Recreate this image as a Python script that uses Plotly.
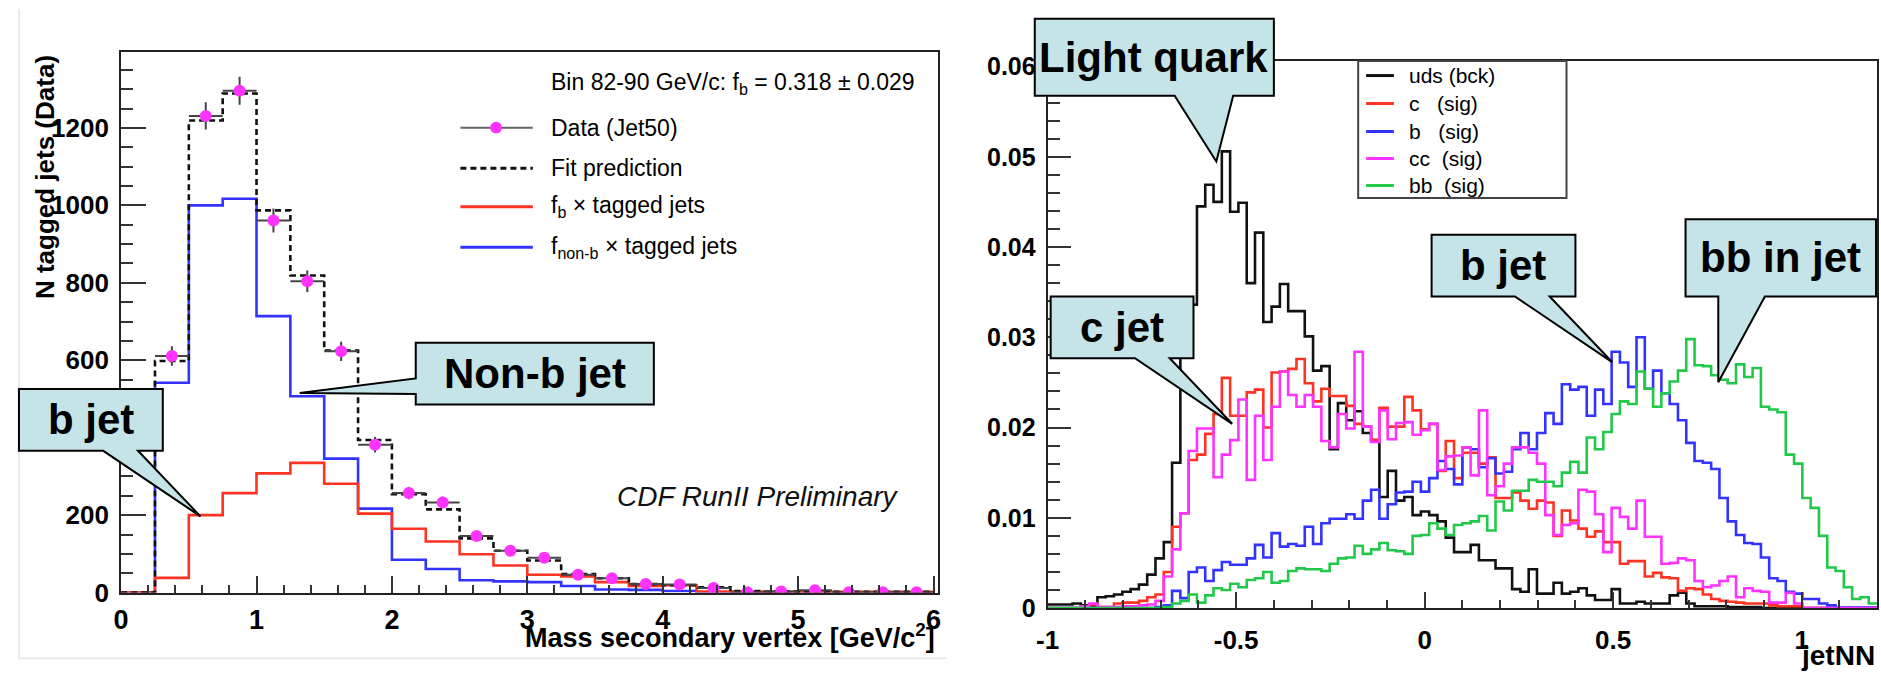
import numpy as np
import plotly.graph_objects as go

W, H = 1881, 679
FONT = "Liberation Sans, Arial, Helvetica, sans-serif"


def px(x):
    return x / W


def py(y):
    return 1 - y / H


# ---------------- Left panel: secondary-vertex mass fit ----------------
mass_edges = np.arange(0.0, 6.0 + 1e-9, 0.25)
fb_tagged = [0, 38, 200, 257, 308, 335, 281, 204, 165, 132, 99, 70,
             46, 42, 27, 17, 19, 3, 3, 2, 2, 2, 2, 2]
nonb_tagged = [0, 542, 1000, 1017, 714, 507, 346, 217, 85, 61, 32, 29,
               27, 17, 8, 7, 4, 1, 1, 1, 1, 1, 1, 1]
fit_prediction = [0, 598, 1219, 1289, 987, 819, 625, 394, 254, 215, 140, 108,
                  83, 48, 37, 22, 19, 14, 4, 3, 3, 2, 2, 2]
data_jet50 = [611, 1231, 1296, 961, 804, 623, 382, 257, 233, 146, 108, 90,
              46, 37, 22, 21, 12, 1, 3, 6, 1, 1, 1]
data_err = [25, 35, 36, 31, 28, 25, 20, 16, 15, 12, 10, 9,
            7, 6, 5, 5, 3, 1, 2, 2, 1, 1, 1]
data_x = (mass_edges[1:-1] + mass_edges[2:]) / 2

left_xticks = [0, 1, 2, 3, 4, 5, 6]
left_xticktext = ["0", "1", "2", "3", "4", "5", "6"]
left_yticks = [0, 200, 400, 600, 800, 1000, 1200]
left_yticktext = ["0", "200", "400", "600", "800", "1000", "1200"]

# ---------------- Right panel: jetNN output (values in units of 1e-3) ----------------
nn_edges = np.linspace(-1.0, 1.2, 101)
uds_e3 = [0.4, 0.4, 0.4, 0.5, 0.3, 0.3, 1.2, 1.3, 1.5, 1.8,
          2.1, 2.6, 3.7, 5.5, 7.3, 16.1, 28.5, 33.6, 44.5, 46.9,
          45.0, 50.6, 43.9, 44.9, 36.0, 41.6, 31.7, 33.4, 35.9, 32.9,
          32.9, 30.1, 26.3, 26.8, 17.6, 22.7, 20.8, 21.8, 19.4, 18.6,
          12.3, 15.2, 11.9, 12.3, 10.3, 10.7, 10.3, 9.6, 7.8, 6.2,
          6.2, 7.0, 5.3, 5.3, 4.4, 4.4, 2.1, 1.8, 4.3, 1.6,
          1.6, 2.8, 1.6, 1.8, 2.2, 1.4, 0.9, 0.9, 2.1, 0.5,
          0.5, 0.7, 0.5, 0.5, 0.5, 1.4, 1.7, 0.5, 0.2, 0.2,
          0.2, 0.2, 0.1, 0.1, 0.1, 0.1, 0, 0, 0, 0,
          0, 0, 0, 0, 0, 0, 0, 0, 0, 0]
c_e3 = [0, 0, 0, 0, 0.1, 0.4, 0.1, 0.1, 0.5, 0.6,
        0.6, 0.8, 1.2, 1.5, 4.0, 9.0, 10.5, 16.4, 17.0, 19.3,
        21.5, 25.5, 21.3, 21.3, 23.9, 24.2, 20.0, 26.1, 26.2, 26.5,
        27.6, 24.9, 22.9, 24.3, 23.5, 23.5, 22.4, 20.4, 20.1, 18.6,
        22.2, 20.1, 20.1, 23.4, 21.9, 19.8, 20.4, 15.2, 18.5, 14.4,
        17.2, 17.2, 16.0, 16.7, 12.2, 12.2, 12.8, 11.9, 11.0, 11.9,
        11.7, 8.0, 10.8, 9.7, 8.8, 7.9, 8.5, 7.3, 7.3, 4.9,
        5.2, 5.2, 3.5, 3.9, 3.4, 3.3, 1.9, 2.2, 2.1, 1.5,
        1.0, 0.8, 0.7, 0.6, 0.5, 0.5, 0.5, 0.3, 0.2, 0.2,
        0.2, 0, 0, 0, 0, 0, 0, 0, 0, 0]
b_e3 = [0, 0, 0, 0, 0, 0, 0, 0, 0, 0,
        0, 0, 0, 0.1, 0.3, 1.9, 1.1, 4.0, 4.5, 3.0,
        4.2, 5.1, 4.8, 4.8, 5.5, 7.0, 5.6, 8.3, 6.8, 7.1,
        6.9, 9.0, 7.1, 9.4, 9.9, 9.9, 10.4, 9.9, 11.9, 13.1,
        9.9, 11.5, 12.8, 12.9, 14.0, 12.9, 14.4, 16.3, 15.4, 13.7,
        17.8, 17.6, 15.6, 16.6, 14.9, 15.1, 17.6, 19.4, 17.6, 19.4,
        21.6, 20.4, 24.8, 24.2, 24.5, 21.3, 24.2, 22.6, 28.4, 27.2,
        24.5, 30.0, 24.3, 26.3, 23.8, 22.6, 20.8, 18.3, 16.3, 16.1,
        15.4, 12.2, 9.6, 8.1, 7.2, 7.1, 5.6, 3.3, 3.0, 1.8,
        1.6, 1.0, 1.0, 0.5, 0.3, 0.05, 0.05, 0.05, 0.05, 0.05]
cc_e3 = [0, 0, 0, 0, 0.2, 0.5, 0.1, 0.1, 0.1, 0.2,
         0.2, 0.3, 0.4, 0.8, 3.5, 6.5, 10.5, 17.4, 19.9, 19.9,
         14.5, 17.0, 18.6, 23.1, 14.2, 21.3, 16.4, 22.3, 26.2, 23.6,
         22.3, 23.6, 22.3, 18.5, 17.8, 21.5, 19.9, 28.4, 20.1, 18.4,
         21.9, 18.7, 20.5, 20.6, 19.2, 19.7, 20.4, 15.3, 16.8, 16.9,
         17.8, 14.7, 21.9, 12.5, 13.5, 16.0, 17.8, 17.8, 17.2, 16.0,
         10.3, 8.1, 9.2, 9.4, 13.1, 12.9, 10.4, 6.2, 11.1, 10.1,
         8.8, 11.9, 7.9, 7.9, 4.9, 5.0, 5.5, 5.3, 3.0, 2.3,
         2.5, 3.0, 3.5, 1.2, 2.2, 1.9, 1.8, 0.6, 0.6, 1.7,
         0.5, 0, 0, 0, 0, 0, 0, 0, 0, 0]
bb_e3 = [0, 0, 0, 0, 0, 0, 0, 0, 0, 0,
         0, 0, 0, 0, 0.1, 0.5, 0.8, 1.5, 0.6, 1.4,
         2.2, 2.0, 2.7, 2.3, 3.1, 3.3, 4.0, 2.8, 3.0, 4.1,
         4.4, 4.3, 4.3, 4.1, 4.9, 5.5, 5.6, 6.9, 6.0, 6.5,
         7.2, 6.4, 6.3, 6.0, 8.0, 8.1, 9.4, 8.8, 8.1, 9.2,
         9.4, 9.6, 10.2, 8.6, 11.8, 10.8, 13.0, 13.0, 14.2, 14.0,
         14.0, 13.5, 15.0, 16.2, 15.0, 18.9, 17.6, 19.5, 21.5, 22.9,
         22.6, 26.2, 24.3, 22.3, 23.8, 25.1, 26.3, 29.8, 26.9, 26.8,
         25.8, 25.3, 24.9, 27.0, 25.6, 26.6, 22.3, 22.0, 21.7, 17.0,
         16.0, 12.2, 11.1, 8.0, 4.5, 4.1, 2.3, 1.0, 1.2, 0.5]

right_xticks = [-1, -0.5, 0, 0.5, 1]
right_xticktext = ["-1", "-0.5", "0", "0.5", "1"]
right_yticks = [0, 0.01, 0.02, 0.03, 0.04, 0.05, 0.06]
right_yticktext = ["0", "0.01", "0.02", "0.03", "0.04", "0.05", "0.06"]

RED = "#ff3322"
BLUE = "#3333ff"
MAGENTA = "#ff33ff"
GREEN = "#22c84a"
BLACK = "#111111"


def step_xy(edges, vals):
    return list(edges), list(vals) + [vals[-1]]


fig = go.Figure()

# left panel histograms
for vals, color, dash in [(nonb_tagged, BLUE, None), (fb_tagged, RED, None),
                          (fit_prediction, BLACK, "6px,4px")]:
    x, y = step_xy(mass_edges, vals)
    fig.add_trace(go.Scatter(x=x, y=y, mode="lines", xaxis="x", yaxis="y",
                             line=dict(shape="hv", color=color, width=2.6, dash=dash),
                             showlegend=False, hoverinfo="skip"))

fig.add_trace(go.Scatter(
    x=data_x, y=data_jet50, mode="markers", xaxis="x", yaxis="y",
    marker=dict(color=MAGENTA, size=12),
    error_y=dict(type="data", array=data_err, color="#444444", thickness=2, width=0),
    error_x=dict(type="constant", value=0.125, color="#444444", thickness=2, width=0),
    showlegend=False, hoverinfo="skip"))

# right panel histograms
for vals, color in [(uds_e3, BLACK), (c_e3, RED), (b_e3, BLUE), (cc_e3, MAGENTA), (bb_e3, GREEN)]:
    x, y = step_xy(nn_edges, list(np.array(vals) * 1e-3))
    fig.add_trace(go.Scatter(x=x, y=y, mode="lines", xaxis="x2", yaxis="y2",
                             line=dict(shape="hv", color=color, width=2.6),
                             showlegend=False, hoverinfo="skip"))


def axis_common(ticklen, minor_len, minor_dtick, tick0, tickvals, ticktext, size, standoff):
    return dict(
        showline=True, linecolor="#222222", linewidth=2, mirror=True,
        ticks="inside", ticklen=ticklen, tickwidth=2, tickcolor="#333333",
        tickmode="array", tickvals=tickvals, ticktext=ticktext,
        tickfont=dict(family=FONT, size=size, color="black", weight="bold"),
        ticklabelstandoff=standoff,
        minor=dict(ticks="inside", ticklen=minor_len, tickwidth=2, tickcolor="#333333",
                   dtick=minor_dtick, tick0=tick0, showgrid=False),
        showgrid=False, zeroline=False,
    )


fig.update_layout(
    width=W, height=H, margin=dict(l=0, r=0, t=0, b=0),
    paper_bgcolor="white", plot_bgcolor="white",
    xaxis=dict(domain=[px(110), px(933)], range=[0, 6.03], anchor="y",
               **axis_common(17, 8, 0.2, 0, left_xticks, left_xticktext, 27, 2)),
    yaxis=dict(domain=[py(605), py(45)], range=[0, 1395], anchor="x",
               **axis_common(25, 12, 50, 0, left_yticks, left_yticktext, 26, 5)),
    xaxis2=dict(domain=[px(1044), px(1880)], range=[-1, 1.2], anchor="y2",
                **axis_common(16, 8, 0.1, 0, right_xticks, right_xticktext, 26, 8)),
    yaxis2=dict(domain=[py(621), py(54)], range=[0, 0.0606], anchor="x2",
                **axis_common(23, 12, 0.002, 0, right_yticks, right_yticktext, 25, 5)),
)

shapes = []
annotations = []

# faint frame of the left picture
shapes.append(dict(type="path", xref="paper", yref="paper", layer="below",
                   path=f"M {px(7)},{py(0)} L {px(7)},{py(673)} L {px(942)},{py(673)}",
                   line=dict(color="#ebebeb", width=2)))

# ---- left legend ----
leg_x0, leg_x1, leg_tx = 452, 525, 541
annotations.append(dict(x=px(leg_tx), y=py(77), xref="paper", yref="paper", xanchor="left",
                        yanchor="middle", showarrow=False,
                        text="Bin 82-90 GeV/c: f<sub>b</sub> = 0.318 ± 0.029",
                        font=dict(family=FONT, size=23, color="black")))
left_entries = [
    (123, "Data (Jet50)", "#666666", 2, None),
    (165, "Fit prediction", BLACK, 3, "6px,4px"),
    (205, "f<sub>b</sub> × tagged jets", RED, 3, None),
    (247, "f<sub>non-b</sub> × tagged jets", BLUE, 3, None),
]
for yy, txt, col, lw, dash in left_entries:
    shapes.append(dict(type="line", xref="paper", yref="paper",
                       x0=px(leg_x0), x1=px(leg_x1), y0=py(yy), y1=py(yy),
                       line=dict(color=col, width=lw, dash=dash)))
    annotations.append(dict(x=px(leg_tx), y=py(yy), xref="paper", yref="paper", xanchor="left",
                            yanchor="middle", showarrow=False, text=txt,
                            font=dict(family=FONT, size=23, color="black")))
shapes.append(dict(type="circle", xref="paper", yref="paper",
                   x0=px(482), x1=px(494), y0=py(117), y1=py(129),
                   fillcolor=MAGENTA, line=dict(width=0)))

annotations.append(dict(x=px(608), y=py(505), xref="paper", yref="paper", xanchor="left",
                        yanchor="middle", showarrow=False, text="<i>CDF RunII Preliminary</i>",
                        font=dict(family=FONT, size=28, color="#111111")))

# axis titles
annotations.append(dict(x=px(932), y=py(650), xref="paper", yref="paper", xanchor="right",
                        yanchor="middle", showarrow=False,
                        text="<b>Mass secondary vertex [GeV/c<sup>2</sup>]</b>",
                        font=dict(family=FONT, size=27, color="black")))
annotations.append(dict(x=px(34), y=py(46), xref="paper", yref="paper", xanchor="center",
                        yanchor="top", showarrow=False, textangle=-90,
                        text="<b>N tagged jets (Data)</b>",
                        font=dict(family=FONT, size=26, color="black")))
annotations.append(dict(x=px(1880), y=py(652), xref="paper", yref="paper", xanchor="right",
                        yanchor="top", showarrow=False, text="<b>jetNN</b>",
                        font=dict(family=FONT, size=28, color="black")))

# ---- right legend ----
shapes.append(dict(type="rect", xref="paper", yref="paper", layer="above",
                   x0=px(1357), x1=px(1567), y0=py(54), y1=py(196),
                   fillcolor="white", line=dict(color="#444444", width=2)))
right_entries = [
    (69, "uds (bck)", BLACK),
    (98, "c\u00a0\u00a0\u00a0(sig)", RED),
    (127, "b\u00a0\u00a0\u00a0(sig)", BLUE),
    (155, "cc\u00a0\u00a0(sig)", MAGENTA),
    (183, "bb\u00a0\u00a0(sig)", GREEN),
]
for yy, txt, col in right_entries:
    shapes.append(dict(type="line", xref="paper", yref="paper",
                       x0=px(1365), x1=px(1393), y0=py(yy), y1=py(yy),
                       line=dict(color=col, width=3)))
    annotations.append(dict(x=px(1406), y=py(yy), xref="paper", yref="paper", xanchor="left",
                            yanchor="middle", showarrow=False, text=txt,
                            font=dict(family=FONT, size=21, color="black")))

# ---- callouts ----
CALLOUT_FILL = "#c5e4e8"


def callout(box, pointer, side, text, center):
    x0, y0, x1, y1 = box
    p = lambda x, y: f"{px(x):.5f},{py(y):.5f}"
    a, tip, b = pointer
    if side == "bottom":
        path = (f"M {p(x0, y0)} L {p(x1, y0)} L {p(x1, y1)} L {p(*a)} L {p(*tip)} "
                f"L {p(*b)} L {p(x0, y1)} Z")
    else:  # pointer leaves the left side
        path = (f"M {p(x0, y0)} L {p(x1, y0)} L {p(x1, y1)} L {p(x0, y1)} L {p(*a)} "
                f"L {p(*tip)} L {p(*b)} Z")
    shapes.append(dict(type="path", xref="paper", yref="paper", layer="above", path=path,
                       fillcolor=CALLOUT_FILL, line=dict(color="black", width=2)))
    annotations.append(dict(x=px(center[0]), y=py(center[1]), xref="paper", yref="paper",
                            xanchor="center", yanchor="middle", showarrow=False,
                            text=f"<b>{text}</b>",
                            font=dict(family=FONT, size=42, color="black")))


callout((7, 394, 152, 458), [(127, 458), (190, 526), (92, 458)], "bottom", "b jet", (80, 426))
callout((407, 346, 647, 410), [(407, 399), (290, 398), (407, 383)], "left", "Non-b jet", (527, 378))
callout((1031, 10, 1272, 90), [(1231, 90), (1214, 158), (1172, 90)], "bottom", "Light quark", (1151, 50))
callout((1047, 298, 1191, 362), [(1167, 362), (1230, 430), (1132, 362)], "bottom", "c jet", (1119, 330))
callout((1431, 234, 1576, 298), [(1550, 298), (1613, 366), (1515, 298)], "bottom", "b jet", (1503, 266))
callout((1687, 218, 1879, 298), [(1767, 298), (1720, 387), (1720, 298)], "bottom", "bb in jet", (1783, 258))

fig.update_layout(shapes=shapes, annotations=annotations)
fig.write_html("out.html")
